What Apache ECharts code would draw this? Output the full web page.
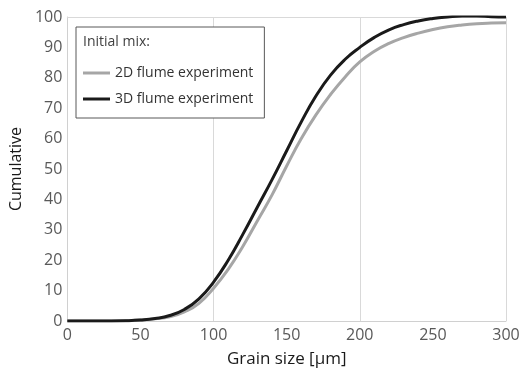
<!DOCTYPE html>
<html><head><meta charset="utf-8">
<script src="https://cdn.jsdelivr.net/npm/echarts@6/dist/echarts.min.js"></script>
<style>html,body{margin:0;padding:0;background:#fff}#c{width:526px;height:373px}</style>
</head><body><div id="c"></div>
<script>
var grainSize = [0,20,40,50,60,70,80,90,100,110,120,130,140,150,160,170,180,190,200,210,220,230,240,250,260,270,280,290,300];
var flume2D = [0,0,0.1,0.3,0.7,1.4,3,5.8,10.8,17,24.5,33,41.5,51,60,67.8,74.5,80.3,85.2,88.7,91.3,93.2,94.7,95.9,96.8,97.4,97.8,98,98.1];
var flume3D = [0,0,0.1,0.3,0.8,1.8,3.8,7.3,12.8,20,28.5,37.5,46.5,56,65.5,74,80.9,86.1,90,93.3,95.8,97.5,98.7,99.5,100,100.3,100.3,100.1,100];
var seriesNames = ['2D flume experiment','3D flume experiment'];
var legendTitle = 'Initial mix:';
var xTicks = [0,50,100,150,200,250,300];
var yTicks = [0,10,20,30,40,50,60,70,80,90,100];

function pairs(xs, ys){ return xs.map(function(x,i){ return [x, ys[i]]; }); }
var FONT = '"Open Sans", sans-serif';
var chart = echarts.init(document.getElementById('c'), null, {renderer:'canvas'});
chart.setOption({
  animation:false,
  backgroundColor:'#fff',
  grid:{left:67,right:20,top:17,bottom:50},
  xAxis:[{
    type:'value', min:xTicks[0], max:xTicks[xTicks.length-1], interval:50,
    name:'Grain size [µm]', nameLocation:'middle', nameGap:30,
    nameTextStyle:{fontFamily:FONT,fontSize:17,color:'#1a1a1a'},
    axisLine:{show:true,lineStyle:{color:'#d0d0d0',width:1}},
    axisTick:{show:false},
    axisLabel:{fontFamily:FONT,fontSize:16,color:'#595959',margin:6},
    splitLine:{show:false}
  },{
    type:'value', position:'top', min:0, max:300, interval:100,
    axisLine:{show:true,lineStyle:{color:'#d9d9d9',width:1}},
    axisTick:{show:false}, axisLabel:{show:false},
    splitLine:{show:true,lineStyle:{color:'#d9d9d9',width:1}}
  }],
  yAxis:{
    type:'value', min:yTicks[0], max:yTicks[yTicks.length-1], interval:10,
    name:'Cumulative', nameLocation:'middle', nameGap:41, nameRotate:90,
    nameTextStyle:{fontFamily:FONT,fontSize:16,color:'#1a1a1a'},
    axisLine:{show:true,lineStyle:{color:'#d0d0d0',width:1}},
    axisTick:{show:false},
    axisLabel:{fontFamily:FONT,fontSize:16,color:'#595959',margin:5},
    splitLine:{show:false}
  },
  legend:{
    left:76, top:27, orient:'vertical',
    padding:[39,11,12,7], itemGap:12, itemWidth:27, itemHeight:3,
    borderColor:'#595959', borderWidth:1, backgroundColor:'#fff',
    icon:'rect',
    textStyle:{fontFamily:FONT,fontSize:14,color:'#333'},
    data:seriesNames
  },
  graphic:[{
    type:'text', left:83, top:35, z:100,
    style:{text:legendTitle, font:'14px "Open Sans", sans-serif', fill:'#404040'}
  }],
  series:[{
    name:seriesNames[0], type:'line', smooth:0.5, showSymbol:false, symbol:'none',
    data:pairs(grainSize, flume2D), color:'#a6a6a6',
    lineStyle:{color:'#a6a6a6',width:3}, z:2
  },{
    name:seriesNames[1], type:'line', smooth:0.5, showSymbol:false, symbol:'none',
    data:pairs(grainSize, flume3D), color:'#1a1a1a',
    lineStyle:{color:'#1a1a1a',width:3}, z:3
  }]
});
</script></body></html>
